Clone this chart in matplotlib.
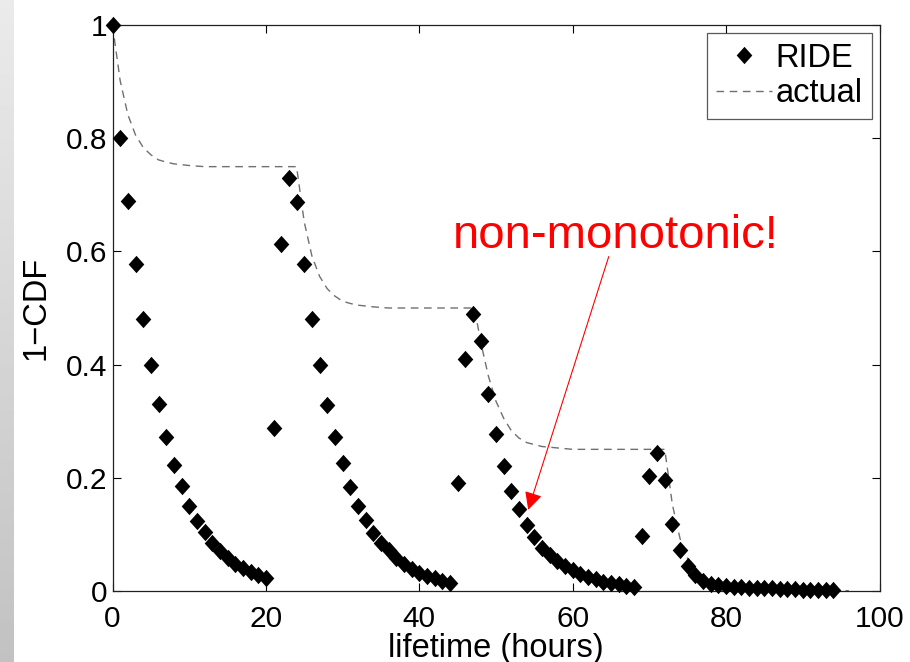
import numpy as np
import matplotlib
matplotlib.use("Agg")
import matplotlib.pyplot as plt

plt.rcParams['font.family'] = ['Liberation Sans', 'DejaVu Sans']

# ---- data ----
ride_x = list(range(0, 95))
ride_y = [
    # 0..20
    1.0, 0.80, 0.69, 0.578, 0.48, 0.40, 0.331, 0.271, 0.222, 0.185, 0.150,
    0.124, 0.103, 0.084, 0.070, 0.058, 0.048, 0.040, 0.033, 0.027, 0.022,
    # 21..44
    0.287, 0.614, 0.730, 0.687, 0.577, 0.48, 0.40, 0.329, 0.272, 0.226, 0.184,
    0.150, 0.125, 0.102, 0.085, 0.072, 0.058, 0.047, 0.038, 0.031, 0.026,
    0.022, 0.018, 0.013,
    # 45..68
    0.191, 0.409, 0.489, 0.442, 0.348, 0.277, 0.221, 0.177, 0.145, 0.116,
    0.095, 0.076, 0.063, 0.052, 0.043, 0.036, 0.030, 0.025, 0.020, 0.016,
    0.013, 0.011, 0.009, 0.007,
    # 69..94
    0.096, 0.202, 0.243, 0.196, 0.118, 0.072, 0.044, 0.027, 0.017, 0.012,
    0.010, 0.008, 0.007, 0.006, 0.005, 0.005, 0.004, 0.004, 0.003, 0.003,
    0.003, 0.002, 0.002, 0.002, 0.002, 0.002,
]

actual_x = [0, 1, 2, 3, 4, 5, 6, 7, 8, 10, 12,
            24, 25, 26, 27, 28, 29, 30, 31, 32, 34, 36,
            47.2, 48, 49, 50, 51, 52, 53, 54, 56, 60,
            72, 73, 74, 75, 76, 77, 78, 79, 80, 82, 84, 96]
actual_y = [1.0, 0.902, 0.842, 0.806, 0.784, 0.771, 0.762, 0.758, 0.755, 0.752, 0.75,
            0.75, 0.652, 0.592, 0.556, 0.534, 0.521, 0.512, 0.508, 0.505, 0.502, 0.50,
            0.50, 0.44, 0.38, 0.335, 0.305, 0.283, 0.27, 0.262, 0.255, 0.25,
            0.25, 0.152, 0.092, 0.056, 0.034, 0.021, 0.012, 0.008, 0.005, 0.002, 0.0, 0.0]

x_ticks = [0, 20, 40, 60, 80, 100]
x_ticklabels = ['0', '20', '40', '60', '80', '100']
y_ticks = [0, 0.2, 0.4, 0.6, 0.8, 1.0]
y_ticklabels = ['0', '0.2', '0.4', '0.6', '0.8', '1']

annot_text = "non-monotonic!"
annot_text_pos = (65.6, 0.606)
annot_arrow_from = (64.7, 0.591)
annot_arrow_to = (54.2, 0.143)

# ---- figure ----
W, H, DPI = 910, 662, 100
fig = plt.figure(figsize=(W / DPI, H / DPI), dpi=DPI)
fig.patch.set_facecolor('white')

# slide-edge gray strip on the left
strip = fig.add_axes([0, 0, 14 / W, 1])
grad = np.linspace(0.92, 0.76, 256).reshape(-1, 1)
strip.imshow(grad, cmap='gray', vmin=0, vmax=1, aspect='auto', extent=[0, 1, 0, 1], origin='upper')
strip.set_axis_off()

ax = fig.add_axes([112.5 / W, 1 - 590.7 / H, (879.5 - 112.5) / W, (590.7 - 25.3) / H])

diamond = [(0, 1), (0.9, 0), (0, -1), (-0.9, 0), (0, 1)]
ax.plot(ride_x, ride_y, linestyle='none', marker=diamond, markersize=12.5,
        color='black', markeredgewidth=0, label='RIDE', clip_on=False, zorder=3)
ax.plot(actual_x, actual_y, linestyle=(0, (5.5, 4)), color='#707070', lw=1.0,
        label='actual', zorder=2)

ax.set_xlim(0, 100)
ax.set_ylim(0, 1)
ax.set_xticks(x_ticks)
ax.set_xticklabels(x_ticklabels)
ax.set_yticks(y_ticks)
ax.set_yticklabels(y_ticklabels)
ax.tick_params(direction='in', length=5.5, width=0.8, labelsize=21.5, top=True, right=True,
               colors='black')
ax.tick_params(axis='x', pad=10)
ax.tick_params(axis='y', pad=4)
for s in ax.spines.values():
    s.set_linewidth(0.9)
    s.set_color('#202020')

ax.set_xlabel('lifetime (hours)', fontsize=23.5, labelpad=0)
ax.set_ylabel('1\u2212CDF', fontsize=23.5, labelpad=10)

leg = ax.legend(loc='upper right', fontsize=23.5, frameon=True, fancybox=False,
                edgecolor='#303030', borderaxespad=0.23, borderpad=0.3,
                handlelength=1.7, handletextpad=0.1, labelspacing=0.15, numpoints=1)
leg.get_frame().set_linewidth(0.9)

ax.text(annot_text_pos[0], annot_text_pos[1], annot_text, color='#ff0000', fontsize=34,
        ha='center', va='baseline')
ax.annotate('', xy=annot_arrow_to, xytext=annot_arrow_from,
            arrowprops=dict(arrowstyle='-|>', color='#ff0000', lw=0.8,
                            mutation_scale=27, shrinkA=0, shrinkB=0))

fig.savefig('out.png', dpi=DPI)
